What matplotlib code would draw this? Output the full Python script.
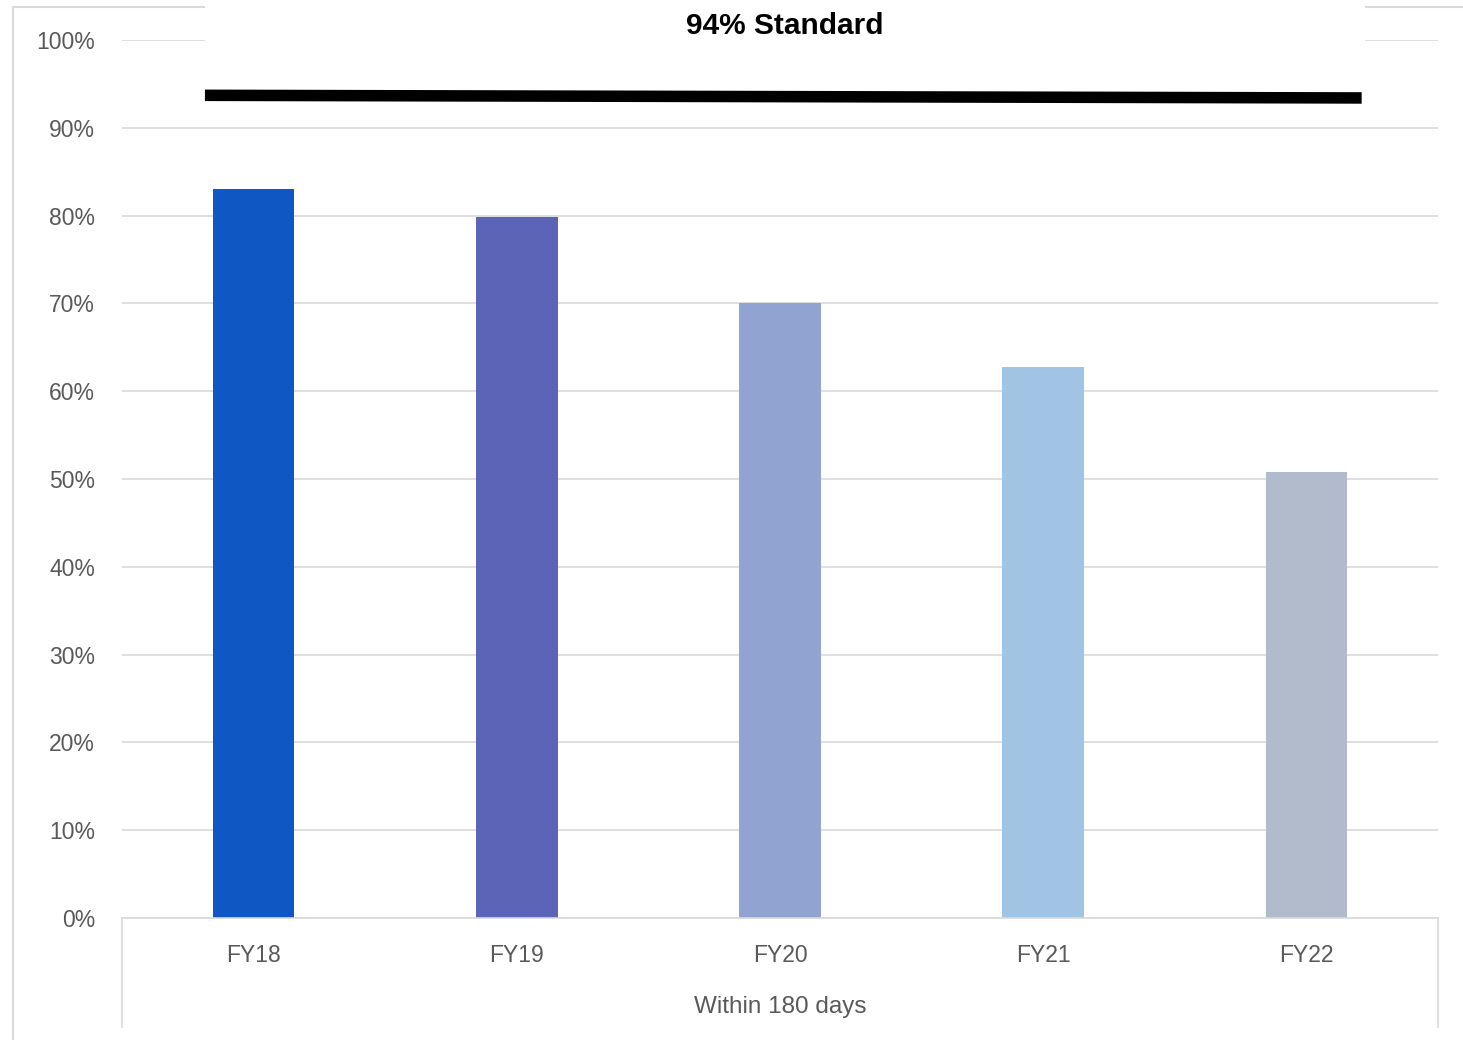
import matplotlib.pyplot as plt
from matplotlib.lines import Line2D
from matplotlib.patches import Rectangle
from matplotlib.ticker import PercentFormatter

categories = ['FY18', 'FY19', 'FY20', 'FY21', 'FY22']
values = [0.830, 0.798, 0.700, 0.628, 0.508]
bar_colors = ['#0f57c3', '#5b64b7', '#90a3d1', '#a1c4e4', '#b1bbcb']
standard_x = [-0.185, 4.21]
standard_y = [0.937, 0.934]
title = '94% Standard'
group_label = 'Within 180 days'

W, H = 1463, 1040
fig = plt.figure(figsize=(W / 100, H / 100), dpi=100)
fig.patch.set_facecolor('white')

# plot area in pixels: x 122..1438, y(0%)=918, y(100%)=40
ax = fig.add_axes([122 / W, 1 - 918 / H, (1438 - 122) / W, (918 - 40) / H])
ax.set_xlim(-0.5, len(categories) - 0.5)
ax.set_ylim(0, 1)

ax.bar(range(len(categories)), values, width=0.31, color=bar_colors, zorder=2)
ax.plot(standard_x, standard_y, color='black', lw=8.3, solid_capstyle='butt', zorder=3)

ax.set_yticks([i / 10 for i in range(11)])
ax.yaxis.set_major_formatter(PercentFormatter(1.0, decimals=0))
ax.grid(axis='y', color='#d9d9d9', lw=1.2, zorder=0)
ax.set_axisbelow(True)
for s in ['top', 'right', 'left']:
    ax.spines[s].set_visible(False)
ax.spines['bottom'].set_color('#d9d9d9')
ax.spines['bottom'].set_linewidth(1.2)
ax.tick_params(axis='y', length=0, pad=19.5, labelsize=16.5, labelcolor='#595959')
ax.tick_params(axis='x', length=0, pad=19, labelsize=16.5, labelcolor='#595959')
ax.set_xticks(range(len(categories)))
ax.set_xticklabels(categories)
for lab in ax.get_xticklabels() + ax.get_yticklabels():
    lab.set_fontfamily('Liberation Sans')

# chart border and multi-level axis lines (figure pixels)
def px_line(x0, y0, x1, y1, **kw):
    fig.add_artist(Line2D([x0 / W, x1 / W], [1 - y0 / H, 1 - y1 / H],
                          transform=fig.transFigure, **kw))

px_line(13, 7, 13, H, color='#d9d9d9', lw=1.5)
px_line(13, 7, W, 7, color='#d9d9d9', lw=1.5)
px_line(122, 918, 122, 1027, color='#d9d9d9', lw=1.2)
px_line(1438, 918, 1438, 1027, color='#d9d9d9', lw=1.2)

# white title box hiding top border and 100% gridline
fig.add_artist(Rectangle((205 / W, 1 - 62 / H), (1365 - 205) / W, 62 / H,
                         transform=fig.transFigure, facecolor='white',
                         edgecolor='none', zorder=5))
fig.text(785 / W, 1 - 26 / H, title, ha='center', va='center', fontsize=21.5,
         fontweight='bold', color='black', family='Liberation Sans', zorder=6)
fig.text(780 / W, 1 - 1007 / H, group_label, ha='center', va='center',
         fontsize=17.5, color='#595959', family='Liberation Sans')

fig.savefig('out.png', dpi=100, facecolor='white')
